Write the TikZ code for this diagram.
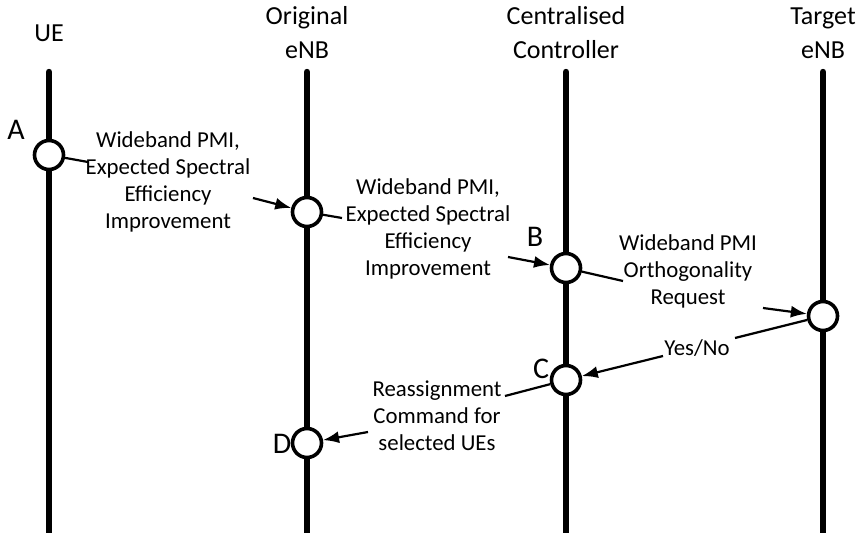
\documentclass[tikz,border=0pt]{standalone}
\usepackage{fontspec}
\setmainfont{Carlito}
\usetikzlibrary{arrows.meta}

\begin{document}
\begin{tikzpicture}[x=0.5pt,y=-0.5pt,
  lane/.style={line width=3.2pt},
  hit/.style={circle,draw,fill=white,line width=1.8pt,minimum size=14.5pt,inner sep=0pt},
  head/.style={align=center,font=\fontsize{13}{17}\selectfont},
  msg/.style={align=center,font=\fontsize{11.4}{13.5}\selectfont},
  tag/.style={font=\fontsize{15}{17}\selectfont},
  link/.style={line width=1.1pt},
  push/.style={line width=1.1pt,-{Latex[length=8pt,width=6pt]}}]
  \useasboundingbox (0,0) rectangle (860,533);
  % participants
  \node[head] (ue)  at (49,33)  {UE};
  \node[head] (org) at (307,33) {Original\\eNB};
  \node[head] (cc)  at (566,33) {Centralised\\Controller};
  \node[head] (tgt) at (823,33) {Target\\eNB};
  \coordinate (ue top) at (49,72);   \coordinate (ue bot) at (49,533);
  \coordinate (org top) at (307,72); \coordinate (org bot) at (307,533);
  \coordinate (cc top) at (566,72);  \coordinate (cc bot) at (566,533);
  \coordinate (tgt top) at (823,72); \coordinate (tgt bot) at (823,533);
  \draw[lane,line cap=round] (ue top) -- (ue bot);
  \draw[lane,line cap=round] (org top) -- (org bot);
  \draw[lane,line cap=round] (cc top) -- (cc bot);
  \draw[lane,line cap=round] (tgt top) -- (tgt bot);
  % events
  \node[hit] (a) at (49,155) {};
  \node[hit] (o) at (307,212) {};
  \node[hit] (b) at (566,268) {};
  \node[hit] (t) at (823,316) {};
  \node[hit] (c) at (566,380) {};
  \node[hit] (d) at (307,443) {};
  \node[tag] (la) at (16,130) {A};
  \node[tag] (lb) at (535,237) {B};
  \node[tag] (lc) at (541,369) {C};
  \node[tag] (ld) at (282,444) {D};
  % messages
  \node[msg] (m1) at (168,182) {Wideband PMI,\\Expected Spectral\\Efficiency\\Improvement};
  \node[msg] (m2) at (428,229) {Wideband PMI,\\Expected Spectral\\Efficiency\\Improvement};
  \node[msg] (m3) at (688,271) {Wideband PMI\\Orthogonality\\Request};
  \node[msg] (m4) at (697,348) {Yes/No};
  \node[msg] (m5) at (437,416) {Reassignment\\Command for\\selected UEs};
  \coordinate (m1 in) at (88,162);   \coordinate (m1 out) at (253,198);
  \coordinate (m2 in) at (342,218);  \coordinate (m2 out) at (508,257);
  \coordinate (m3 in) at (623,281);  \coordinate (m3 out) at (763,308);
  \coordinate (m4 in) at (735,338);  \coordinate (m4 out) at (663,356);
  \coordinate (m5 in) at (505,396);  \coordinate (m5 out) at (368,432);
  \draw[link] (a) -- (m1 in);
  \draw[push] (m1 out) -- (o);
  \draw[link] (o) -- (m2 in);
  \draw[push] (m2 out) -- (b);
  \draw[link] (b) -- (m3 in);
  \draw[push] (m3 out) -- (t);
  \draw[link] (t) -- (m4 in);
  \draw[push] (m4 out) -- (c);
  \draw[link] (c) -- (m5 in);
  \draw[push] (m5 out) -- (d);
\end{tikzpicture}
\end{document}
